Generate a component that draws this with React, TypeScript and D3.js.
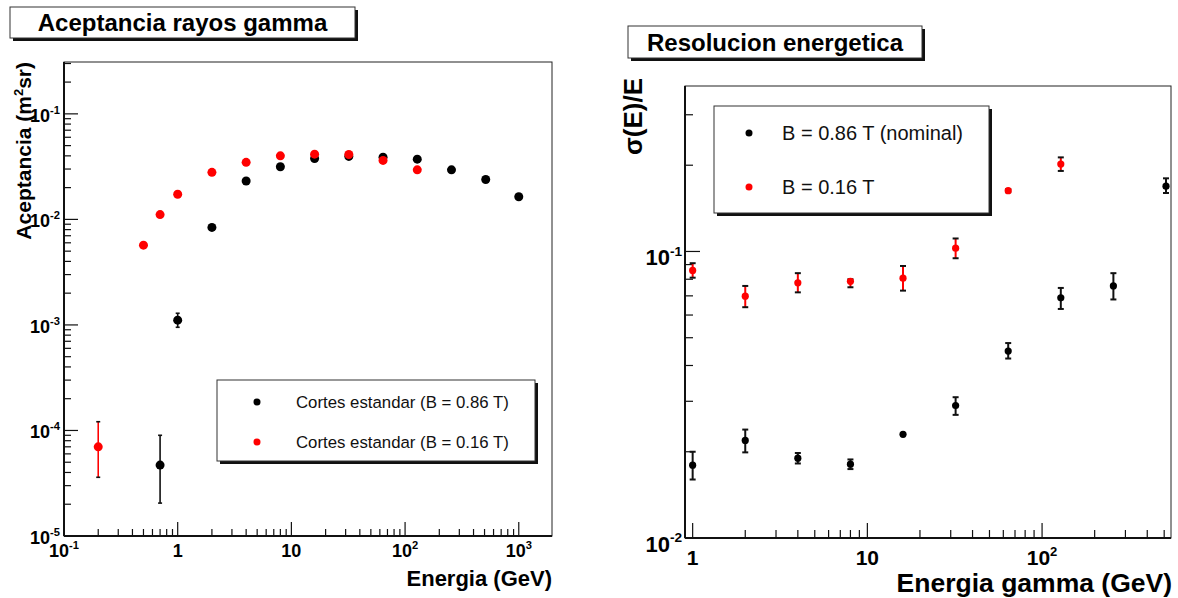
import React from "react";
import * as d3 from "d3";

// ---------- Data: Aceptancia rayos gamma ----------
const accEnergyBlack = [0.7, 1, 2, 4, 8, 16, 32, 64, 128, 256, 512, 1000];
const accBlack = [4.7e-5, 1.11e-3, 8.4e-3, 0.0231, 0.0315, 0.0378, 0.0395, 0.0389, 0.0372, 0.0295, 0.0239, 0.0164];
const accBlackLo = [2.05e-5, 0.95e-3, 8.2e-3, 0.0227, 0.031, 0.0373, 0.039, 0.0383, 0.0366, 0.0290, 0.0234, 0.0155];
const accBlackHi = [9.0e-5, 1.29e-3, 8.6e-3, 0.0235, 0.032, 0.0383, 0.040, 0.0395, 0.0378, 0.0300, 0.0244, 0.0172];

const accEnergyRed = [0.2, 0.5, 0.7, 1, 2, 4, 8, 16, 32, 64, 128];
const accRed = [7.0e-5, 5.7e-3, 0.0111, 0.0173, 0.0279, 0.0347, 0.040, 0.0415, 0.0412, 0.0362, 0.0295];
const accRedLo = [3.6e-5, 5.4e-3, 0.0108, 0.0169, 0.0274, 0.0342, 0.0395, 0.0408, 0.0405, 0.0355, 0.0290];
const accRedHi = [1.21e-4, 6.0e-3, 0.0114, 0.0177, 0.0284, 0.0352, 0.0405, 0.0422, 0.0419, 0.0369, 0.0300];

const accLegend = ["Cortes estandar (B = 0.86 T)", "Cortes estandar (B = 0.16 T)"];
const accXTicks = [0.1, 1, 10, 100, 1000];
const accYTicks = [1e-5, 1e-4, 1e-3, 1e-2, 1e-1];

// ---------- Data: Resolucion energetica ----------
const resEnergyBlack = [1, 2, 4, 8, 16, 32, 64, 128, 256, 512];
const resBlack = [0.01795, 0.0219, 0.019, 0.0181, 0.023, 0.029, 0.0449, 0.0689, 0.0758, 0.169];
const resBlackLo = [0.016, 0.0199, 0.0182, 0.0174, 0.0229, 0.0269, 0.0423, 0.063, 0.068, 0.16];
const resBlackHi = [0.0200, 0.0239, 0.0198, 0.0188, 0.0231, 0.031, 0.0479, 0.0746, 0.084, 0.18];

const resEnergyRed = [1, 2, 4, 8, 16, 32, 64, 128];
const resRed = [0.0859, 0.0698, 0.0777, 0.0787, 0.0807, 0.1027, 0.163, 0.2018];
const resRedLo = [0.081, 0.0639, 0.072, 0.075, 0.073, 0.0947, 0.161, 0.191];
const resRedHi = [0.091, 0.0758, 0.084, 0.080, 0.089, 0.111, 0.165, 0.213];

const resLegend = ["B = 0.86 T (nominal)", "B = 0.16 T"];
const resXTicks = [1, 10, 100];
const resYTicks = [0.01, 0.1];

const FONT = "'Liberation Sans', Arial, Helvetica, sans-serif";

function minorTicks(domain: [number, number]) {
  const out: number[] = [];
  const lo = Math.floor(Math.log10(domain[0]));
  const hi = Math.ceil(Math.log10(domain[1]));
  for (let e = lo; e <= hi; e++) {
    for (let m = 1; m <= 9; m++) {
      const v = m * Math.pow(10, e);
      if (v >= domain[0] * 0.9999 && v <= domain[1] * 1.0001) out.push(v);
    }
  }
  return out;
}

function PowLabel({ v, x, y, anchor, size }: { v: number; x: number; y: number; anchor: string; size: number }) {
  const e = Math.round(Math.log10(v));
  if (e === 0) return <text x={x} y={y} textAnchor={anchor} fontFamily={FONT} fontWeight="bold" fontSize={size}>1</text>;
  if (e === 1) return <text x={x} y={y} textAnchor={anchor} fontFamily={FONT} fontWeight="bold" fontSize={size}>10</text>;
  return (
    <text x={x} y={y} textAnchor={anchor} fontFamily={FONT} fontWeight="bold" fontSize={size}>
      10
      <tspan fontSize={size * 0.62} dy={-size * 0.45}>{e}</tspan>
    </text>
  );
}

type Series = { x: number[]; y: number[]; lo: number[]; hi: number[]; color: string };

function Panel(props: {
  left: number; right: number; top: number; bottom: number;
  xDomain: [number, number]; yDomain: [number, number];
  xTicks: number[]; yTicks: number[];
  series: Series[]; r: number; cap: number; errW: number;
  xLabelSize: number; xLabelDy: number; yLabelSize: number; yLabelDx: number; yLabelDy: number;
  majorLen: number; minorLen: number;
}) {
  const { left, right, top, bottom, xDomain, yDomain, series, r, cap, errW } = props;
  const x = d3.scaleLog().domain(xDomain).range([left, right]);
  const y = d3.scaleLog().domain(yDomain).range([bottom, top]);
  const xMinor = minorTicks(xDomain);
  const yMinor = minorTicks(yDomain);
  return (
    <g>
      <rect x={left} y={top} width={right - left} height={bottom - top} fill="white" stroke="#222" strokeWidth={1} />
      {xMinor.map((v, i) => {
        const major = props.xTicks.some((t) => Math.abs(t - v) / t < 1e-6);
        return <line key={"xm" + i} x1={x(v)} x2={x(v)} y1={bottom} y2={bottom - (major ? props.majorLen : props.minorLen)} stroke="#111" strokeWidth={1.2} />;
      })}
      {yMinor.map((v, i) => {
        const major = props.yTicks.some((t) => Math.abs(t - v) / t < 1e-6);
        return <line key={"ym" + i} x1={left} x2={left + (major ? props.majorLen : props.minorLen)} y1={y(v)} y2={y(v)} stroke="#111" strokeWidth={1.2} />;
      })}
      <line x1={left} x2={left} y1={top} y2={bottom} stroke="#111" strokeWidth={2} />
      <line x1={left} x2={right} y1={bottom} y2={bottom} stroke="#111" strokeWidth={2} />
      {props.xTicks.map((v, i) => (
        <PowLabel key={"xl" + i} v={v} x={x(v)} y={bottom + props.xLabelDy} anchor="middle" size={props.xLabelSize} />
      ))}
      {props.yTicks.map((v, i) => (
        <PowLabel key={"yl" + i} v={v} x={left - props.yLabelDx} y={y(v) + props.yLabelDy} anchor="end" size={props.yLabelSize} />
      ))}
      {series.map((s, si) => (
        <g key={"s" + si}>
          {s.x.map((xv, i) => {
            const cx = x(xv);
            const y1 = y(s.lo[i]);
            const y2 = y(s.hi[i]);
            return (
              <g key={i}>
                <line x1={cx} x2={cx} y1={y1} y2={y2} stroke={s.color === "red" ? "red" : "#111"} strokeWidth={errW} />
                <line x1={cx - cap} x2={cx + cap} y1={y1} y2={y1} stroke="#111" strokeWidth={errW} />
                <line x1={cx - cap} x2={cx + cap} y1={y2} y2={y2} stroke="#111" strokeWidth={errW} />
                <circle cx={cx} cy={y(s.y[i])} r={r} fill={s.color} />
              </g>
            );
          })}
        </g>
      ))}
    </g>
  );
}

function TitleBox({ x, y, w, h, text, size }: { x: number; y: number; w: number; h: number; text: string; size: number }) {
  return (
    <g>
      <rect x={x + 3} y={y + 3} width={w} height={h} fill="#111" />
      <rect x={x} y={y} width={w} height={h} fill="white" stroke="#333" strokeWidth={1} />
      <text x={x + w / 2} y={y + h / 2 + size * 0.36} textAnchor="middle" fontFamily={FONT} fontWeight="bold" fontSize={size}>{text}</text>
    </g>
  );
}

function Legend({ x, y, w, h, items, colors, markX, rowY, textX, size, r }: {
  x: number; y: number; w: number; h: number; items: string[]; colors: string[]; markX: number; rowY: number[]; textX: number; size: number; r: number;
}) {
  return (
    <g>
      <rect x={x + 3} y={y + 3} width={w} height={h} fill="#111" />
      <rect x={x} y={y} width={w} height={h} fill="white" stroke="#333" strokeWidth={1} />
      {items.map((t, i) => (
        <g key={i}>
          <circle cx={markX} cy={rowY[i]} r={r} fill={colors[i]} />
          <text x={textX} y={rowY[i] + size * 0.36} fontFamily={FONT} fontSize={size} fill="#111">{t}</text>
        </g>
      ))}
    </g>
  );
}

export default function App() {
  const accSeries: Series[] = [
    { x: accEnergyBlack, y: accBlack, lo: accBlackLo, hi: accBlackHi, color: "black" },
    { x: accEnergyRed, y: accRed, lo: accRedLo, hi: accRedHi, color: "red" },
  ];
  const resSeries: Series[] = [
    { x: resEnergyBlack, y: resBlack, lo: resBlackLo, hi: resBlackHi, color: "black" },
    { x: resEnergyRed, y: resRed, lo: resRedLo, hi: resRedHi, color: "red" },
  ];
  return (
    <svg width={1178} height={598} style={{ position: "absolute", left: 0, top: 0, background: "white" }}>
      <rect x={0} y={0} width={1178} height={598} fill="white" />
      {/* Left panel */}
      <TitleBox x={10} y={7} w={345} h={31} text="Aceptancia rayos gamma" size={24} />
      <Panel left={64} right={552} top={62} bottom={536}
        xDomain={[0.1, 1960]} yDomain={[1e-5, 0.31]}
        xTicks={accXTicks} yTicks={accYTicks}
        series={accSeries} r={4.5} cap={2} errW={1.6}
        xLabelSize={18} xLabelDy={21} yLabelSize={18} yLabelDx={4} yLabelDy={8}
        majorLen={14} minorLen={7} />
      <text transform="translate(31,62) rotate(-90)" textAnchor="end" fontFamily={FONT} fontWeight="bold" fontSize={21}>
        Aceptancia (m<tspan fontSize={13} dy={-8}>2</tspan><tspan dy={8}>sr)</tspan>
      </text>
      <text x={552} y={586} textAnchor="end" fontFamily={FONT} fontWeight="bold" fontSize={22}>Energia (GeV)</text>
      <Legend x={217} y={380} w={318} h={81} items={accLegend} colors={["black", "red"]}
        markX={257} rowY={[402, 442]} textX={296} size={16.8} r={3.5} />

      {/* Right panel */}
      <TitleBox x={628} y={26} w={294} h={32} text="Resolucion energetica" size={24} />
      <Panel left={685} right={1171} top={86} bottom={538}
        xDomain={[0.904, 547]} yDomain={[0.01, 0.378]}
        xTicks={resXTicks} yTicks={resYTicks}
        series={resSeries} r={3.6} cap={3} errW={2}
        xLabelSize={21} xLabelDy={27} yLabelSize={22} yLabelDx={3} yLabelDy={14}
        majorLen={15} minorLen={8} />
      <text transform="translate(642,78) rotate(-90)" textAnchor="end" fontFamily={FONT} fontWeight="bold" fontSize={26}>σ(E)/E</text>
      <text x={1172} y={592} textAnchor="end" fontFamily={FONT} fontWeight="bold" fontSize={26.5}>Energia gamma (GeV)</text>
      <Legend x={714} y={106} w={275} h={107} items={resLegend} colors={["black", "red"]}
        markX={749} rowY={[133, 187]} textX={782} size={20} r={3.5} />
    </svg>
  );
}
